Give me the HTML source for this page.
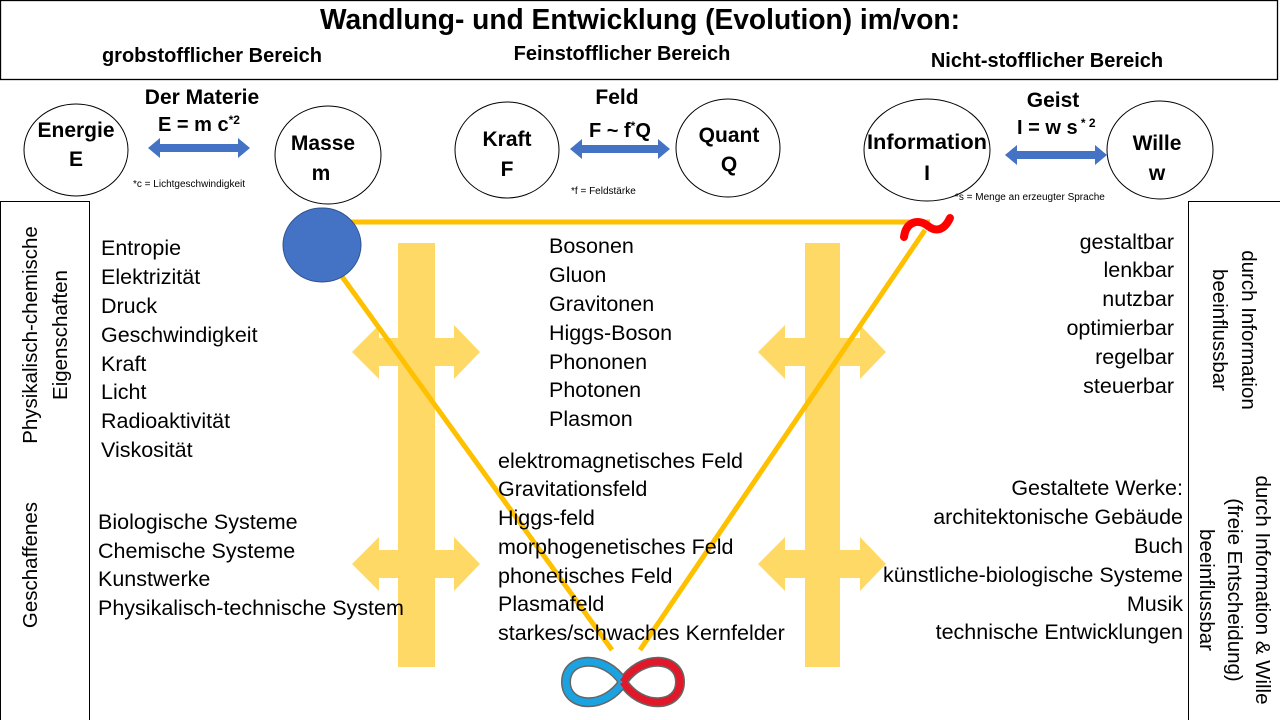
<!DOCTYPE html>
<html><head><meta charset="utf-8"><style>
html,body{margin:0;padding:0;background:#fff;}
svg{display:block;font-family:"Liberation Sans",sans-serif;}
.b{font-weight:bold;}
</style></head><body>
<svg width="1280" height="720" viewBox="0 0 1280 720" xmlns="http://www.w3.org/2000/svg">
<rect x="0.5" y="0.5" width="1277" height="79" fill="#fff" stroke="#000" stroke-width="1.3"/>
<text x="640" y="29" text-anchor="middle" class="b" font-size="28.5" textLength="640" lengthAdjust="spacingAndGlyphs">Wandlung- und Entwicklung (Evolution) im/von:</text>
<text x="212" y="62" text-anchor="middle" class="b" font-size="20">grobstofflicher Bereich</text>
<text x="622" y="60" text-anchor="middle" class="b" font-size="20">Feinstofflicher Bereich</text>
<text x="1047" y="67" text-anchor="middle" class="b" font-size="20">Nicht-stofflicher Bereich</text>

<g fill="#fff" stroke="#000" stroke-width="1">
<ellipse cx="76" cy="150" rx="52" ry="46"/>
<ellipse cx="328" cy="155" rx="53" ry="49"/>
<ellipse cx="507" cy="150" rx="52" ry="48"/>
<ellipse cx="728" cy="148" rx="52" ry="49"/>
<ellipse cx="927" cy="150" rx="63" ry="51"/>
<ellipse cx="1160" cy="150" rx="53" ry="49"/>
</g>
<g class="b" font-size="21" text-anchor="middle">
<text x="76" y="137">Energie</text><text x="76" y="166">E</text>
<text x="323" y="150">Masse</text><text x="321" y="180">m</text>
<text x="507" y="146">Kraft</text><text x="507" y="176">F</text>
<text x="729" y="142">Quant</text><text x="729" y="171">Q</text>
<text x="927" y="149" textLength="120" lengthAdjust="spacingAndGlyphs">Information</text><text x="927" y="180">I</text>
<text x="1157" y="150">Wille</text><text x="1157" y="180">w</text>
<text x="202" y="104">Der Materie</text>
<text x="617" y="104">Feld</text>
<text x="1053" y="107">Geist</text>
</g>
<text x="158" y="131" class="b" font-size="20">E = m c<tspan font-size="12" dy="-7">*2</tspan></text>
<text x="589" y="137" class="b" font-size="20">F ~ f<tspan font-size="12" dy="-7">*</tspan><tspan dy="7">Q</tspan></text>
<text x="1017" y="134" class="b" font-size="20">I = w s<tspan font-size="12" dy="-7"> * 2</tspan></text>
<g font-size="10">
<text x="133" y="187">*c = Lichtgeschwindigkeit</text>
<text x="571" y="194">*f = Feldstärke</text>
<text x="955" y="200">*s = Menge an erzeugter Sprache</text>
</g>
<g fill="#4472c4">
<polygon points="148,148 160,138 160,144 238,144 238,138 250,148 238,158 238,152 160,152 160,158"/>
<polygon points="570,149 582,139 582,145 658,145 658,139 670,149 658,159 658,153 582,153 582,159"/>
<polygon points="1005,155 1017,145 1017,151 1095,151 1095,145 1107,155 1095,165 1095,159 1017,159 1017,165"/>
</g>

<rect x="0.5" y="201.5" width="89" height="520" fill="#fff" stroke="#000" stroke-width="1"/>
<rect x="1188.5" y="201.5" width="92" height="520" fill="#fff" stroke="#000" stroke-width="1"/>
<g font-size="20.5" text-anchor="middle">
<text transform="translate(37,335) rotate(-90)">Physikalisch-chemische</text>
<text transform="translate(67,335) rotate(-90)">Eigenschaften</text>
<text transform="translate(37,565) rotate(-90)">Geschaffenes</text>
<text transform="translate(1242,330) rotate(90)">durch Information</text>
<text transform="translate(1213,330) rotate(90)">beeinflussbar</text>
<text transform="translate(1256,590) rotate(90)">durch Information &amp; Wille</text>
<text transform="translate(1228,590) rotate(90)">(freie Entscheidung)</text>
<text transform="translate(1200,590) rotate(90)">beeinflussbar</text>
</g>

<g fill="#ffd966">
<rect x="398" y="243" width="37" height="424"/>
<rect x="805" y="243" width="35" height="424"/>
<polygon points="352,352 379,325 379,338 454,338 454,325 480,352 454,379 454,366 379,366 379,379"/>
<polygon points="352,564 379,537 379,550 454,550 454,537 480,564 454,591 454,578 379,578 379,591"/>
<polygon points="758,352 785,325 785,338 860,338 860,325 886,352 860,379 860,366 785,366 785,379"/>
<polygon points="758,564 785,537 785,550 860,550 860,537 886,564 860,591 860,578 785,578 785,591"/>
</g>
<g stroke="#ffc000" stroke-width="5" fill="none">
<line x1="330" y1="222" x2="930" y2="222"/>
<line x1="330" y1="260" x2="612" y2="650"/>
<line x1="925" y1="230" x2="640" y2="650"/>
</g>
<ellipse cx="322" cy="245" rx="39" ry="37" fill="#4472c4" stroke="#2f528f" stroke-width="1"/>
<path d="M904,237 C906,222 918,218 928,226 C937,233 945,229 950,218" stroke="#ff0000" stroke-width="8" fill="none" stroke-linecap="round"/>

<g fill="none">
<path d="M623,682 C605,710 566,708 566,682 C566,656 605,654 623,682 C641,710 680,708 680,682 C680,656 641,654 623,682" stroke="#666" stroke-width="10"/>
<path d="M623,682 C605,710 566,708 566,682 C566,656 605,654 623,682" stroke="#1aa3e0" stroke-width="7"/>
<path d="M623,682 C641,710 680,708 680,682 C680,656 641,654 623,682" stroke="#e0182a" stroke-width="7"/>
</g>

<g font-size="21.5">
<text x="101" y="255">Entropie</text>
<text x="101" y="284">Elektrizität</text>
<text x="101" y="313">Druck</text>
<text x="101" y="342">Geschwindigkeit</text>
<text x="101" y="371">Kraft</text>
<text x="101" y="399">Licht</text>
<text x="101" y="428">Radioaktivität</text>
<text x="101" y="457">Viskosität</text>
<text x="98" y="529">Biologische Systeme</text>
<text x="98" y="558">Chemische Systeme</text>
<text x="98" y="586">Kunstwerke</text>
<text x="98" y="615">Physikalisch-technische System</text>
<text x="549" y="253">Bosonen</text>
<text x="549" y="282">Gluon</text>
<text x="549" y="311">Gravitonen</text>
<text x="549" y="340">Higgs-Boson</text>
<text x="549" y="369">Phononen</text>
<text x="549" y="397">Photonen</text>
<text x="549" y="426">Plasmon</text>
<text x="498" y="468">elektromagnetisches Feld</text>
<text x="498" y="496">Gravitationsfeld</text>
<text x="498" y="525">Higgs-feld</text>
<text x="498" y="554">morphogenetisches Feld</text>
<text x="498" y="583">phonetisches Feld</text>
<text x="498" y="611">Plasmafeld</text>
<text x="498" y="640">starkes/schwaches Kernfelder</text>
</g>
<g font-size="21.5" text-anchor="end">
<text x="1174" y="249">gestaltbar</text>
<text x="1174" y="277">lenkbar</text>
<text x="1174" y="306">nutzbar</text>
<text x="1174" y="335">optimierbar</text>
<text x="1174" y="364">regelbar</text>
<text x="1174" y="393">steuerbar</text>
<text x="1183" y="495">Gestaltete Werke:</text>
<text x="1183" y="524">architektonische Gebäude</text>
<text x="1183" y="553">Buch</text>
<text x="1183" y="582">künstliche-biologische Systeme</text>
<text x="1183" y="611">Musik</text>
<text x="1183" y="639">technische Entwicklungen</text>
</g>
</svg>
</body></html>
